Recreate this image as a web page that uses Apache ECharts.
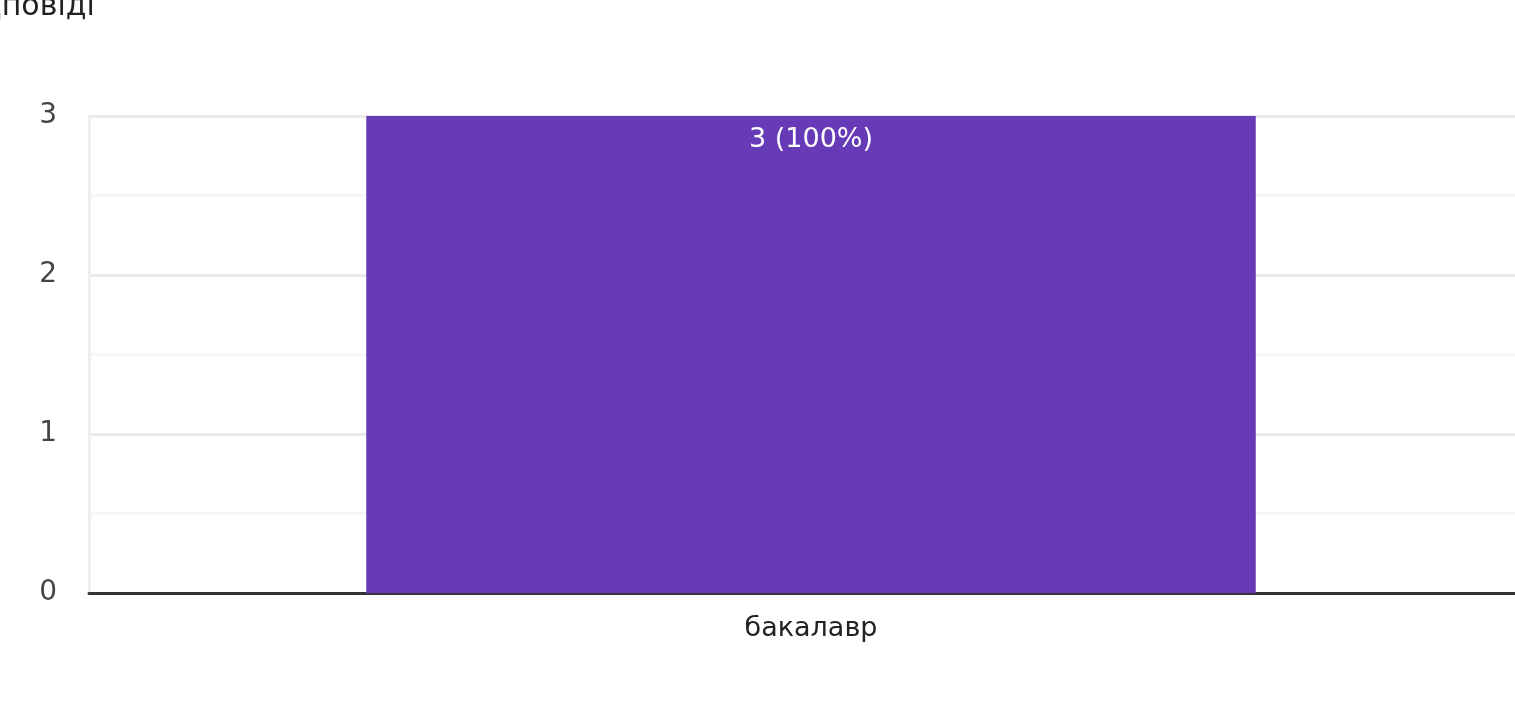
<!DOCTYPE html>
<html>
<head>
<meta charset="utf-8">
<script src="https://cdn.jsdelivr.net/npm/echarts@6/dist/echarts.min.js"></script>
<style>
html,body{margin:0;padding:0;background:#fff;}
#chart{width:1515px;height:715px;}
</style>
</head>
<body>
<div id="chart"></div>
<script>
const categories = ['бакалавр'];
const values = [3];
const percents = ['100%'];
const titleText = 'відповіді';
const yTicks = [0, 1, 2, 3];

const FONT = '"DejaVu Sans"';
const chart = echarts.init(document.getElementById('chart'), null, {renderer: 'canvas'});
chart.setOption({
  animation: false,
  backgroundColor: '#ffffff',
  graphic: [{
    type: 'text',
    left: -45,
    top: -8,
    style: {text: titleText, font: '30px ' + FONT, fill: '#212121'}
  }],
  grid: {left: 89, width: 1444, top: 116, bottom: 122, containLabel: false, outerBoundsMode: 'none'},
  xAxis: {
    type: 'category',
    data: categories,
    axisLine: {show: true, lineStyle: {color: '#333333', width: 3}},
    axisTick: {show: false},
    axisLabel: {color: '#222222', fontSize: 27, fontFamily: FONT, margin: 22},
    splitLine: {show: false}
  },
  yAxis: {
    type: 'value',
    min: 0,
    max: 3,
    interval: 0.5,
    axisLine: {show: true, lineStyle: {color: '#eeeeee', width: 3}},
    axisTick: {show: false},
    axisLabel: {
      color: '#444444', fontSize: 28, fontFamily: FONT, margin: 32,
      formatter: function (v) { return yTicks.indexOf(v) >= 0 ? String(v) : ''; }
    },
    splitLine: {show: true, lineStyle: {color: ['#ebebeb', '#f6f6f6'], width: 3}}
  },
  series: [{
    type: 'bar',
    data: values,
    barWidth: '61.6%',
    itemStyle: {color: '#673ab7'},
    label: {
      show: true,
      position: 'insideTop',
      distance: 10,
      color: '#ffffff',
      fontSize: 27,
      fontFamily: FONT,
      formatter: function (p) { return p.value + ' (' + percents[p.dataIndex] + ')'; }
    }
  }]
});
</script>
</body>
</html>
